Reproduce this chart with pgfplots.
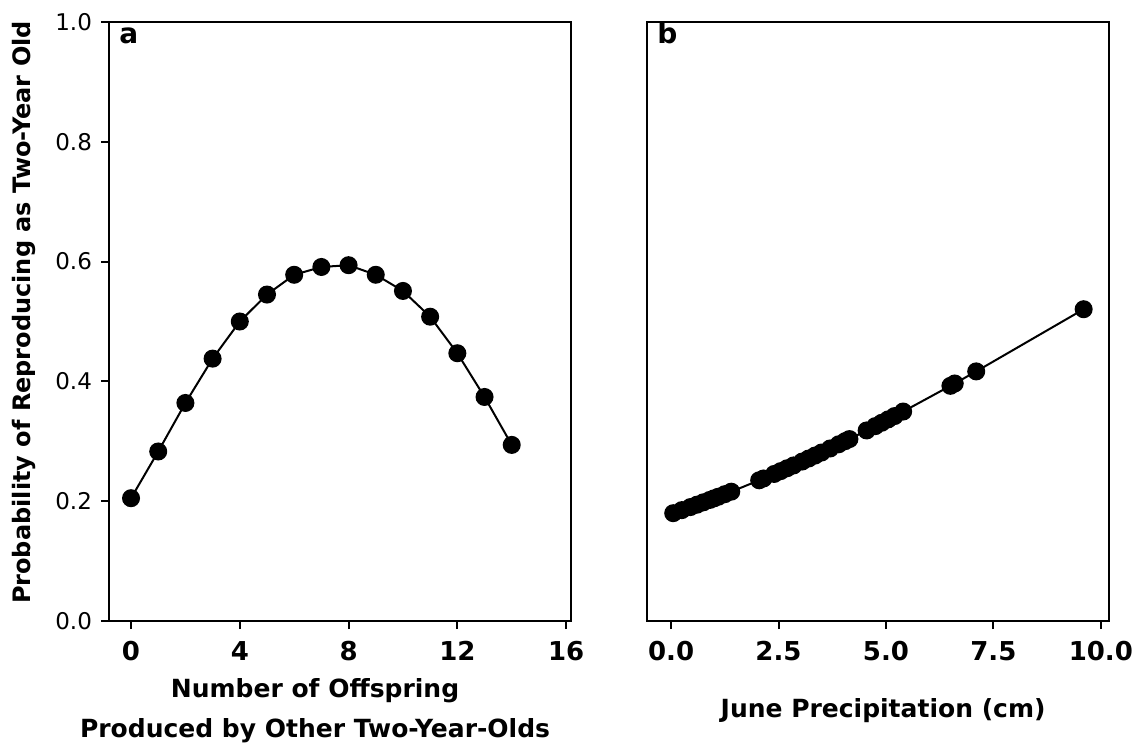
\documentclass[border=0pt]{standalone}
\usepackage{fontspec}
\setmainfont{DejaVu Sans}
\usepackage{pgfplots}
\pgfplotsset{compat=1.18}

% Fitted probability against number of offspring of other two-year-olds
\pgfplotstableread{
x y
0  0.205
1  0.283
2  0.364
3  0.438
4  0.500
5  0.545
6  0.578
7  0.591
8  0.594
9  0.578
10 0.551
11 0.508
12 0.447
13 0.374
14 0.294
}\offspring

% Fitted probability against June precipitation (cm)
\pgfplotstableread{
x y
0.05 0.1800
0.25 0.1851
0.45 0.1902
0.60 0.1941
0.75 0.1981
0.90 0.2021
1.00 0.2048
1.10 0.2075
1.25 0.2117
1.40 0.2159
2.05 0.2349
2.15 0.2379
2.40 0.2455
2.55 0.2502
2.70 0.2550
2.85 0.2597
3.05 0.2662
3.20 0.2712
3.35 0.2762
3.50 0.2812
3.70 0.2880
3.90 0.2950
4.05 0.3002
4.15 0.3037
4.55 0.3181
4.75 0.3253
4.90 0.3309
5.05 0.3365
5.20 0.3421
5.40 0.3497
6.50 0.3926
6.60 0.3965
7.10 0.4167
9.60 0.5205
}\precip

\pgfplotsset{
  panel/.style={
    scale only axis,
    width=231pt, height=299.5pt,
    ymin=0, ymax=1,
    axis line style={line width=1pt},
    tick style={line width=1pt, black},
    major tick length=4pt,
    tick align=outside,
    xtick pos=lower, ytick pos=left,
    /pgf/number format/assume math mode=true,
    yticklabel style={font=\fontsize{11.5}{14}\selectfont, xshift=-1pt},
    xticklabel style={font=\fontsize{13}{15}\bfseries\selectfont, yshift=-2.5pt},
    label style={font=\fontsize{12.5}{20}\bfseries\selectfont, align=center},
  },
  curve/.style={black, line width=1pt, mark=*, mark size=4pt,
    mark options={solid, fill=black}},
}
\tikzset{
  panel tag/.style={anchor=base west, inner sep=0,
    font=\fontsize{14}{16}\bfseries\selectfont},
}

\begin{document}
\begin{tikzpicture}
\path[use as bounding box] (0,0) rectangle (569pt,374.5pt);

\begin{axis}[panel,
  at={(54.5pt,64pt)}, anchor=south west,
  xmin=-0.81, xmax=16.18,
  xtick={0,4,8,12,16},
  ytick={0,0.2,0.4,0.6,0.8,1.0},
  yticklabel style={/pgf/number format/.cd, fixed, fixed zerofill, precision=1},
  xlabel={Number of Offspring\\Produced by Other Two-Year-Olds},
  xlabel style={at={(axis description cs:0.446,-0.149)}, anchor=center},
  ylabel={Probability of Reproducing as Two-Year Old},
  ylabel style={at={(axis description cs:-0.184,0.515)}, anchor=center,
    font=\fontsize{12}{14}\bfseries\selectfont},
]
\addplot[curve] table[x=x, y=y] {\offspring};
\node[panel tag] at (rel axis cs:0,1) [xshift=5pt, yshift=-11pt] {a};
\end{axis}

\begin{axis}[panel,
  at={(323.5pt,64pt)}, anchor=south west,
  xmin=-0.56, xmax=10.19,
  xtick={0,2.5,5,7.5,10},
  ytick=\empty,
  xticklabel style={/pgf/number format/.cd, fixed, fixed zerofill, precision=1},
  xlabel={June Precipitation (cm)},
  xlabel style={at={(axis description cs:0.511,-0.149)}, anchor=center},
]
\addplot[curve] table[x=x, y=y] {\precip};
\node[panel tag] at (rel axis cs:0,1) [xshift=5pt, yshift=-11pt] {b};
\end{axis}
\end{tikzpicture}
\end{document}
